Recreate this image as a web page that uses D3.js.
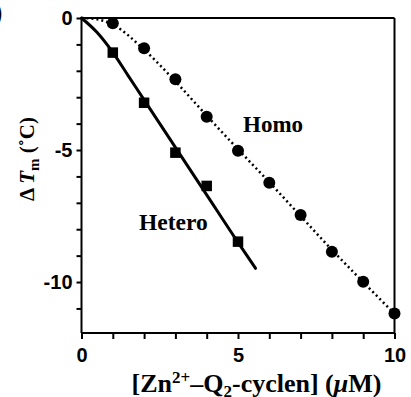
<!DOCTYPE html>
<html>
<head>
<meta charset="utf-8">
<script src="https://cdn.jsdelivr.net/npm/d3@7"></script>
<style>
  body { margin: 0; background: #fff; }
  svg { display: block; }
  .tick text { font-family: "Liberation Sans", Arial, sans-serif; font-weight: bold; }
  .lbl { font-family: "Liberation Serif", "Times New Roman", serif; font-weight: bold; }
</style>
</head>
<body>
<svg id="chart" width="411" height="397"></svg>
<script>
// data
const concHomo = [1, 2, 3, 4, 5, 6, 7, 8, 9, 10];
const dTmHomo = [-0.2, -1.15, -2.32, -3.74, -5.03, -6.24, -7.46, -8.85, -9.99, -11.19];
const concHetero = [1, 2, 3, 4, 5];
const dTmHetero = [-1.31, -3.21, -5.1, -6.36, -8.47];

// fitted curves
const fitHomoX = [0, 0.5, 1, 2, 3, 4, 5, 6, 7, 8, 9, 10];
const fitHomoY = [0, -0.05, -0.25, -1.2, -2.4, -3.7, -4.97, -6.22, -7.5, -8.78, -10.0, -11.2];
const fitHeteroX = [0, 0.5, 1, 1.5, 2, 3, 4, 5, 5.56];
const fitHeteroY = [0, -0.55, -1.3, -2.2, -3.1, -4.9, -6.7, -8.5, -9.48];

const xTicks = [0, 1, 2, 3, 4, 5, 6, 7, 8, 9, 10];
const yTicks = [0, -1, -2, -3, -4, -5, -6, -7, -8, -9, -10, -11];
const xLabels = [0, 5, 10];
const yLabels = [0, -5, -10];

const svg = d3.select('#chart');

const x = d3.scaleLinear().domain([0, 10]).range([81.5, 394.5]);
const y = d3.scaleLinear().domain([0, -11.93]).range([18, 333]);

// frame: top and right borders
svg.append('line')
  .attr('x1', x(0)).attr('x2', x(10))
  .attr('y1', y(0)).attr('y2', y(0))
  .attr('stroke', '#000').attr('stroke-width', 2);
svg.append('line')
  .attr('x1', x(10)).attr('x2', x(10))
  .attr('y1', y(0)).attr('y2', y(-11.93))
  .attr('stroke', '#000').attr('stroke-width', 2);

const xAxis = svg.append('g')
  .attr('transform', `translate(0,${y(-11.93)})`)
  .call(d3.axisBottom(x).tickValues(xTicks).tickSizeOuter(0).tickSize(6)
    .tickFormat(d => xLabels.includes(d) ? d : ''));
const yAxis = svg.append('g')
  .attr('transform', `translate(${x(0)},0)`)
  .call(d3.axisLeft(y).tickValues(yTicks).tickSizeOuter(0).tickSize(5)
    .tickFormat(d => yLabels.includes(d) ? d : ''));

[xAxis, yAxis].forEach(a => {
  a.select('.domain').attr('stroke-width', 2);
  a.selectAll('.tick line').attr('stroke-width', 2);
  a.selectAll('.tick text').style('font-size', '20px');
});
xAxis.select('.domain').attr('d', `M${x(0)},0H${x(10)}`);
yAxis.select('.domain').attr('d', `M0,${y(0)}V${y(-11.93)}`);
xAxis.selectAll('.tick text').attr('dy', '0.72em').attr('y', 15);
yAxis.selectAll('.tick text').attr('x', -9);

// fitted lines
const line = d3.line().x(d => x(d[0])).y(d => y(d[1])).curve(d3.curveMonotoneX);

svg.append('path')
  .datum(fitHomoX.map((v, i) => [v, fitHomoY[i]]))
  .attr('d', line)
  .attr('fill', 'none')
  .attr('stroke', '#000')
  .attr('stroke-width', 2.5)
  .attr('stroke-dasharray', '2,3');

svg.append('path')
  .datum(fitHeteroX.map((v, i) => [v, fitHeteroY[i]]))
  .attr('d', line)
  .attr('fill', 'none')
  .attr('stroke', '#000')
  .attr('stroke-width', 3)
  .attr('stroke-linecap', 'round');

// markers
svg.append('g').selectAll('circle')
  .data(concHomo.map((v, i) => [v, dTmHomo[i]]))
  .join('circle')
  .attr('cx', d => x(d[0]))
  .attr('cy', d => y(d[1]))
  .attr('r', 6)
  .attr('fill', '#000');

const sq = 10.5;
svg.append('g').selectAll('rect')
  .data(concHetero.map((v, i) => [v, dTmHetero[i]]))
  .join('rect')
  .attr('x', d => x(d[0]) - sq / 2)
  .attr('y', d => y(d[1]) - sq / 2)
  .attr('width', sq)
  .attr('height', sq)
  .attr('fill', '#000');

// series labels
svg.append('text').attr('class', 'lbl')
  .attr('x', 243).attr('y', 131.5)
  .style('font-size', '23px')
  .text('Homo');
svg.append('text').attr('class', 'lbl')
  .attr('x', 139).attr('y', 230)
  .style('font-size', '23.5px')
  .text('Hetero');

// axis titles
const xt = svg.append('text').attr('class', 'lbl')
  .attr('x', 256.5).attr('y', 391.5)
  .attr('text-anchor', 'middle')
  .style('font-size', '26px');
xt.append('tspan').text('[Zn');
xt.append('tspan').attr('dy', -9).style('font-size', '17px').text('2+');
xt.append('tspan').attr('dy', 9).text('–Q');
xt.append('tspan').attr('dy', 5).style('font-size', '17px').text('2');
xt.append('tspan').attr('dy', -5).text('-cyclen] (');
xt.append('tspan').style('font-style', 'italic').text('μ');
xt.append('tspan').text('M)');

const yt = svg.append('text').attr('class', 'lbl')
  .attr('transform', 'translate(34,159) rotate(-90)')
  .attr('text-anchor', 'middle')
  .style('font-size', '21px');
yt.append('tspan').text('Δ ');
yt.append('tspan').style('font-style', 'italic').text('T');
yt.append('tspan').attr('dy', 5).style('font-size', '15px').text('m');
yt.append('tspan').attr('dy', -5).text(' (˚C)');

// panel letter, cut off at the left edge
svg.append('text')
  .attr('x', -5).attr('y', 20)
  .style('font-family', 'Liberation Sans, Arial, sans-serif')
  .style('font-weight', 'bold')
  .style('font-size', '22px')
  .text(')');
</script>
</body>
</html>
